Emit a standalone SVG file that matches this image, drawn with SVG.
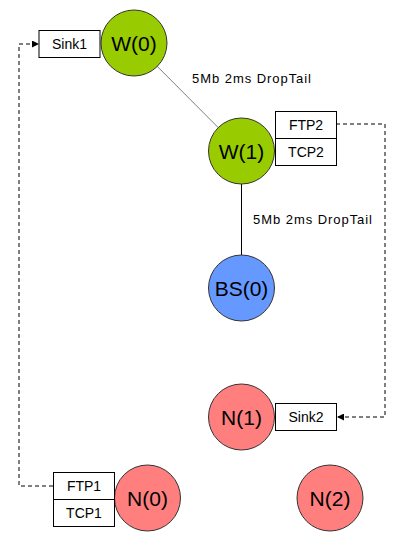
<svg xmlns="http://www.w3.org/2000/svg" width="410" height="550" viewBox="0 0 410 550">
<defs>
<style>
.node{stroke:#333;stroke-width:1}
.w{fill:#99cc00}
.bs{fill:#6699ff}
.n{fill:#ff7f7f}
.nl{font-family:"Liberation Sans",Arial,sans-serif;font-size:21px;fill:#000;text-anchor:middle}
.box{fill:#fff;stroke:#000;stroke-width:1}
.bl{font-family:"Liberation Sans",Arial,sans-serif;font-size:14px;fill:#000;text-anchor:middle}
.el{font-family:"Liberation Sans",Arial,sans-serif;font-size:13px;fill:#000}
.dash{fill:none;stroke:#000;stroke-width:1;stroke-dasharray:4,3}
</style>
<marker id="arr" viewBox="0 0 10 10" refX="10" refY="5" markerWidth="7" markerHeight="7" orient="auto" markerUnits="userSpaceOnUse">
<path d="M0,0 L10,5 L0,10 z" fill="#000"/>
</marker>
</defs>
<g id="connectors">
<line x1="134" y1="43" x2="241.5" y2="151" stroke="#808080" stroke-width="1"/>
<line x1="241.5" y1="151" x2="241.5" y2="288" stroke="#000" stroke-width="1"/>
<text class="el" x="192" y="83" textLength="119" lengthAdjust="spacing">5Mb 2ms DropTail</text>
<text class="el" x="253" y="224" textLength="119" lengthAdjust="spacing">5Mb 2ms DropTail</text>
<polyline class="dash" points="336,124 385,124 385,417 337,417" marker-end="url(#arr)"/>
<polyline class="dash" points="53,486 19,486 19,44 39,44" marker-end="url(#arr)"/>
</g>
<g id="W0">
<circle class="node w" cx="134" cy="43" r="33"/>
<text class="nl" x="134" y="50.5">W(0)</text>
</g>
<g id="Sink1">
<rect class="box" x="39" y="30.5" width="61" height="27"/>
<text class="bl" x="69.5" y="49">Sink1</text>
</g>
<g id="W1">
<circle class="node w" cx="241.5" cy="151" r="33"/>
<text class="nl" x="241.5" y="158.5">W(1)</text>
</g>
<g id="FTP2">
<rect class="box" x="275.5" y="111.5" width="61" height="27"/>
<text class="bl" x="306" y="130">FTP2</text>
</g>
<g id="TCP2">
<rect class="box" x="275.5" y="138.5" width="61" height="27"/>
<text class="bl" x="306" y="157">TCP2</text>
</g>
<g id="BS0">
<circle class="node bs" cx="241.5" cy="288" r="33"/>
<text class="nl" x="241.5" y="295.5">BS(0)</text>
</g>
<g id="N1">
<circle class="node n" cx="241.5" cy="417" r="33"/>
<text class="nl" x="241.5" y="424.5">N(1)</text>
</g>
<g id="Sink2">
<rect class="box" x="275.5" y="403.5" width="61" height="27"/>
<text class="bl" x="306" y="422">Sink2</text>
</g>
<g id="N0">
<circle class="node n" cx="147.5" cy="498" r="33"/>
<text class="nl" x="147.5" y="505.5">N(0)</text>
</g>
<g id="FTP1">
<rect class="box" x="53.5" y="472.5" width="61" height="27"/>
<text class="bl" x="84" y="491">FTP1</text>
</g>
<g id="TCP1">
<rect class="box" x="53.5" y="499.5" width="61" height="27"/>
<text class="bl" x="84" y="518">TCP1</text>
</g>
<g id="N2">
<circle class="node n" cx="330" cy="498" r="33"/>
<text class="nl" x="330" y="505.5">N(2)</text>
</g>
</svg>
